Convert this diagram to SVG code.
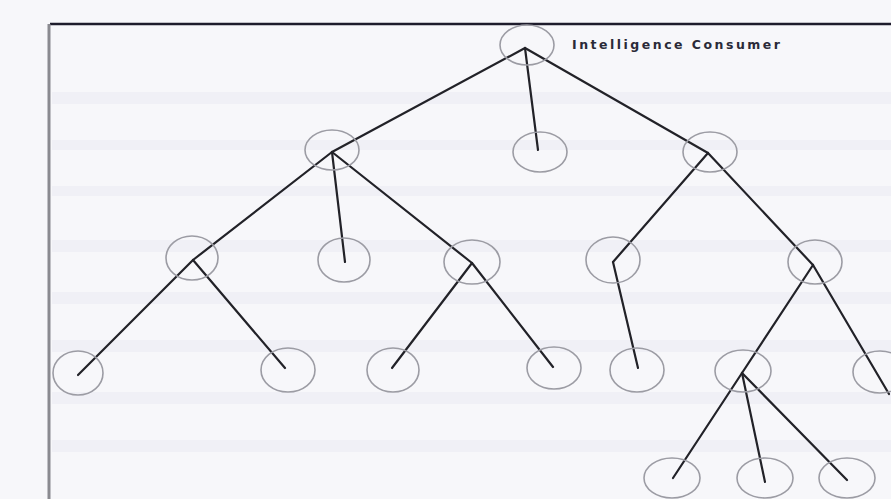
<svg xmlns="http://www.w3.org/2000/svg" width="891" height="499" viewBox="0 0 891 499">
<style>
.n ellipse{fill:none;stroke:#9c9ca4;stroke-width:1.6}
.e line{stroke:#222228;stroke-width:2.2;stroke-linecap:round}
.band{fill:#ebebf2;opacity:.55}
.lbl{font-family:"DejaVu Sans","Liberation Sans",Arial,sans-serif;font-weight:bold;font-size:12.5px;fill:#2a2a38}
</style>
<rect x="0" y="0" width="891" height="499" fill="#f7f7fa"/>
<g id="background-bands">
<rect class="band" x="52" y="92" width="839" height="12"/>
<rect class="band" x="52" y="140" width="839" height="10"/>
<rect class="band" x="52" y="186" width="839" height="10"/>
<rect class="band" x="52" y="240" width="839" height="12"/>
<rect class="band" x="52" y="292" width="839" height="12"/>
<rect class="band" x="52" y="340" width="839" height="12"/>
<rect class="band" x="52" y="392" width="839" height="12"/>
<rect class="band" x="52" y="440" width="839" height="12"/>
</g>
<g id="frame">
<line x1="50" y1="24" x2="891" y2="24" stroke="#1e1c2c" stroke-width="2.5"/>
<line x1="49" y1="24" x2="49" y2="499" stroke="#8a8a90" stroke-width="3"/>
</g>
<g class="e" id="connectors">
<line x1="525" y1="48" x2="332" y2="152"/>
<line x1="525" y1="48" x2="538" y2="150"/>
<line x1="525" y1="48" x2="708" y2="153"/>
<line x1="332" y1="152" x2="193" y2="260"/>
<line x1="332" y1="152" x2="345" y2="262"/>
<line x1="332" y1="152" x2="472" y2="263"/>
<line x1="193" y1="260" x2="78" y2="375"/>
<line x1="193" y1="260" x2="285" y2="368"/>
<line x1="472" y1="263" x2="392" y2="368"/>
<line x1="472" y1="263" x2="553" y2="367"/>
<line x1="708" y1="153" x2="613" y2="262"/>
<line x1="708" y1="153" x2="813" y2="265"/>
<line x1="613" y1="262" x2="638" y2="368"/>
<line x1="813" y1="265" x2="742" y2="373"/>
<line x1="813" y1="265" x2="889" y2="394"/>
<line x1="742" y1="373" x2="673" y2="478"/>
<line x1="742" y1="373" x2="765" y2="482"/>
<line x1="742" y1="373" x2="847" y2="480"/>
</g>
<g class="n" id="n-root"><ellipse cx="527" cy="45" rx="27" ry="20"/></g>
<text class="lbl" x="572" y="49" textLength="208" lengthAdjust="spacing">Intelligence Consumer</text>
<g class="n" id="n-1a"><ellipse cx="332" cy="150" rx="27" ry="20"/></g>
<g class="n" id="n-1b"><ellipse cx="540" cy="152" rx="27" ry="20"/></g>
<g class="n" id="n-1c"><ellipse cx="710" cy="152" rx="27" ry="20"/></g>
<g class="n" id="n-2a"><ellipse cx="192" cy="258" rx="26" ry="22"/></g>
<g class="n" id="n-2b"><ellipse cx="344" cy="260" rx="26" ry="22"/></g>
<g class="n" id="n-2c"><ellipse cx="472" cy="262" rx="28" ry="22"/></g>
<g class="n" id="n-2d"><ellipse cx="613" cy="260" rx="27" ry="23"/></g>
<g class="n" id="n-2e"><ellipse cx="815" cy="262" rx="27" ry="22"/></g>
<g class="n" id="n-3a"><ellipse cx="78" cy="373" rx="25" ry="22"/></g>
<g class="n" id="n-3b"><ellipse cx="288" cy="370" rx="27" ry="22"/></g>
<g class="n" id="n-3c"><ellipse cx="393" cy="370" rx="26" ry="22"/></g>
<g class="n" id="n-3d"><ellipse cx="554" cy="368" rx="27" ry="21"/></g>
<g class="n" id="n-3e"><ellipse cx="637" cy="370" rx="27" ry="22"/></g>
<g class="n" id="n-3f"><ellipse cx="743" cy="371" rx="28" ry="21"/></g>
<g class="n" id="n-3g"><ellipse cx="880" cy="372" rx="27" ry="21"/></g>
<g class="n" id="n-4a"><ellipse cx="672" cy="478" rx="28" ry="20"/></g>
<g class="n" id="n-4b"><ellipse cx="765" cy="478" rx="28" ry="20"/></g>
<g class="n" id="n-4c"><ellipse cx="847" cy="478" rx="28" ry="20"/></g>
</svg>
